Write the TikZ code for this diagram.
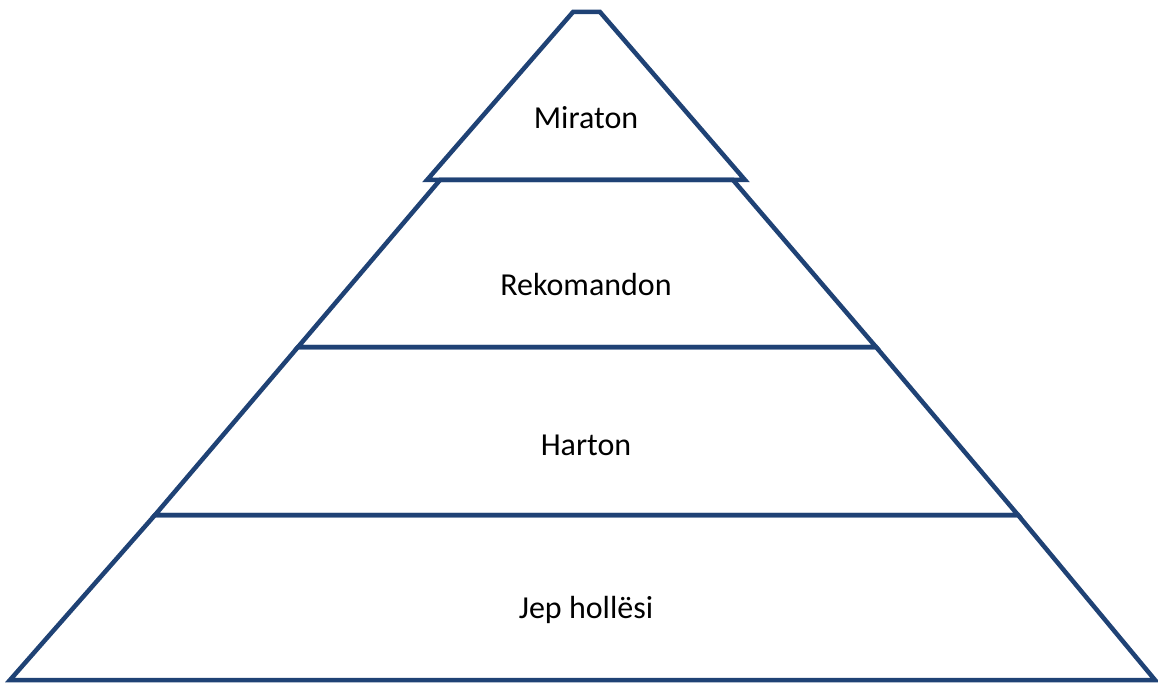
\documentclass[tikz,border=0pt]{standalone}
\usepackage{fontspec}
\setmainfont{Carlito}
\definecolor{bandblue}{HTML}{1F4275}
\tikzset{
	band/.style={draw=bandblue,line width=4.5pt,line join=miter},
	label/.style={font=\fontsize{32}{38}\selectfont,text=black}
}
\begin{document}
\begin{tikzpicture}[x=1pt,y=-1pt]
	\useasboundingbox (0,0) rectangle (1158,684);
	% levels, top to bottom
	\draw[band] (427,180) -- (573,12) -- (600,12) -- (745,180) -- cycle;
	\draw[band] (440,180) -- (733,180) -- (876,347) -- (298,347) -- cycle;
	\draw[band] (298,347) -- (876,347) -- (1018,515) -- (155,515) -- cycle;
	\draw[band] (155,515) -- (1018,515) -- (1155,680) -- (10,680) -- cycle;
	
	\node[label] (miraton) at (586,118) {Miraton};
	\node[label] (rekomandon) at (586,285) {Rekomandon};
	\node[label] (harton) at (586,445) {Harton};
	\node[label] (jep) at (586,610) {Jep hollësi};
\end{tikzpicture}
\end{document}
